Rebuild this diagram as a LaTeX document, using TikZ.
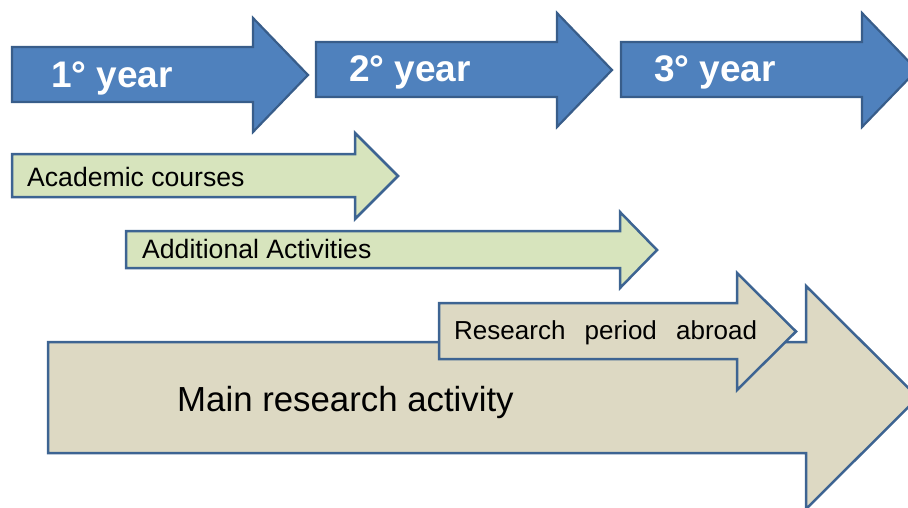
\documentclass[tikz,border=0pt]{standalone}
\usepackage{fontspec}
\setmainfont{Liberation Sans}
\definecolor{yfill}{HTML}{4F81BD}
\definecolor{yline}{HTML}{385D8A}
\definecolor{gfill}{HTML}{D7E4BD}
\definecolor{tfill}{HTML}{DDD9C3}
\definecolor{bline}{HTML}{3D6492}
\newcommand\blkarrow[8]{%
  \path[#1] (#2,#3) -- (#5,#3) -- (#5,#6) -- (#8,{(#6+#7)/2}) -- (#5,#7) -- (#5,#4) -- (#2,#4) -- cycle;}
\begin{document}
\begin{tikzpicture}[x=1pt,y=-1pt,
  yeararrow/.style={fill=yfill,draw=yline,line width=2.2pt,line join=miter},
  greenarrow/.style={fill=gfill,draw=bline,line width=2.5pt,line join=miter},
  tanarrow/.style={fill=tfill,draw=bline,line width=2.5pt,line join=miter},
  yeartext/.style={anchor=base west,inner sep=0pt,text=white,font=\fontsize{37}{42}\selectfont\bfseries},
  smalltext/.style={anchor=base west,inner sep=0pt,text=black,font=\fontsize{26.6}{30}\selectfont},
  bigtext/.style={anchor=base west,inner sep=0pt,text=black,font=\fontsize{34.8}{40}\selectfont}]
\useasboundingbox (0,0) rectangle (908,507);
% year arrows
\blkarrow{yeararrow}{12}{47}{102}{253}{18}{132}{308}
\blkarrow{yeararrow}{316}{42}{97}{557}{13}{127}{612}
\blkarrow{yeararrow}{621}{42}{97}{862}{13}{127}{917}
\node[yeartext] (y1) at (51,87) {1° year};
\node[yeartext] (y2) at (349,81) {2° year};
\node[yeartext] (y3) at (654,81) {3° year};
% activity arrows
\blkarrow{greenarrow}{12}{154}{197}{355}{133}{219}{398}
\node[smalltext] (ac) at (27,186) {Academic courses};
\blkarrow{greenarrow}{126}{231}{268}{620}{212}{288}{657}
\node[smalltext] (aa) at (142,258) {Additional Activities};
\blkarrow{tanarrow}{48}{342}{453}{806}{286}{509}{918}
\node[bigtext] (mr) at (177,411) {Main research activity};
\blkarrow{tanarrow}{439}{303}{359}{737}{273}{390}{796}
\node[smalltext,font=\fontsize{26}{30}\selectfont] (rp) at (454,339) {Research\hspace{12pt} period\hspace{12pt} abroad};
\end{tikzpicture}
\end{document}
